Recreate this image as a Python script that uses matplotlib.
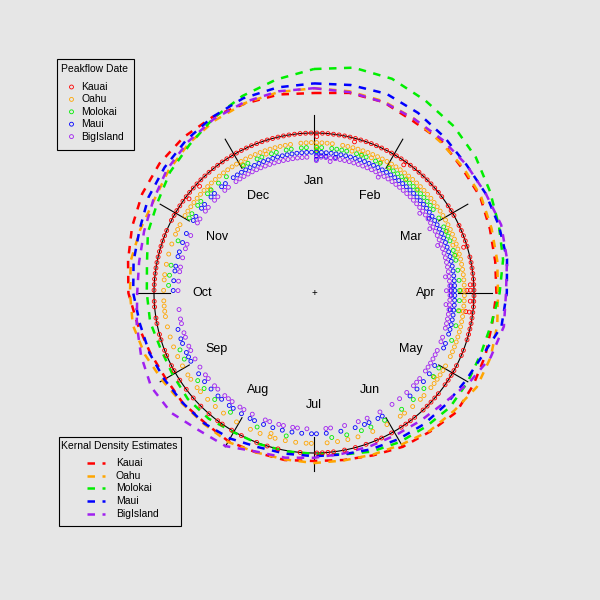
import matplotlib
matplotlib.use("Agg")
import matplotlib.pyplot as plt
import numpy as np
from matplotlib.patches import Rectangle

plt.rcParams["font.family"] = ["Liberation Sans", "DejaVu Sans"]

islands = ["Kauai", "Oahu", "Molokai", "Maui", "BigIsland"]
colors = ["red", "orange", "#00ee00", "blue", "#a020f0"]
months = ["Jan", "Feb", "Mar", "Apr", "May", "Jun",
          "Jul", "Aug", "Sep", "Oct", "Nov", "Dec"]

# peak flow dates (day of year)
kauai_doy = [1, 3, 5, 6, 8, 10, 12, 14, 16, 17, 19, 21, 23, 25, 27, 29, 31,
             32, 34, 36, 37, 39, 41, 43, 45, 47, 49, 51, 53, 55, 58,
             61, 63, 66, 68, 70, 72, 74, 76, 79, 82, 84, 86, 88, 89, 90,
             91, 92, 92, 93, 95, 96, 97, 99, 100, 100, 102, 104, 106, 108, 110, 113, 116, 119,
             122, 124, 126, 128, 131, 133, 135, 137, 140, 143, 146, 148, 150,
             154, 158, 161, 165, 168, 172, 176, 179,
             181, 183, 188, 196, 201, 205, 210,
             214, 218, 222, 226, 230, 234, 238, 242,
             245, 248, 251, 254, 257, 260, 263, 266, 269, 272,
             275, 277, 280, 281, 283, 285, 287, 290, 291, 293, 296, 299, 302,
             305, 307, 309, 311, 312, 313, 315, 317, 318, 319, 321, 323, 325, 327, 329, 331, 333,
             335, 337, 339, 341, 343, 345, 347, 349, 351, 353, 355, 357, 359, 361, 363, 365]
oahu_doy = [1, 2, 3, 5, 6, 8, 13, 14, 16, 17, 19, 20, 21, 22, 24, 25, 26, 28, 29, 30,
            32, 33, 35, 36, 38, 40, 41, 43, 44, 46, 47, 49, 51, 53, 55, 57, 58,
            60, 62, 64, 66, 67, 69, 70, 72, 73, 75, 77, 78, 80, 82, 84, 86, 88, 90,
            91, 92, 94, 95, 97, 99, 100, 102, 103, 105, 107, 109, 111, 113, 116, 118,
            121, 124, 126, 127, 128, 130, 132, 135, 138, 141, 145, 149,
            155, 160, 166, 170, 175, 179,
            184, 186, 190, 195, 199, 200, 201, 204, 209,
            215, 220, 226, 230, 233, 236, 240, 241,
            246, 250, 254, 258, 262, 266, 268, 270, 272,
            276, 279, 282, 286, 290, 294, 298, 301, 303,
            306, 308, 310, 312, 314, 316, 318, 320, 321, 323, 325, 327, 328, 330, 332, 334,
            336, 337, 339, 341, 342, 344, 346, 347, 349, 351, 353, 355, 357, 360, 362, 364]
molokai_doy = [1, 3, 5, 8, 10, 13, 15, 18, 20, 23, 26, 29,
               32, 34, 36, 38, 40, 42, 44, 46, 48, 50, 52, 54, 57,
               61, 64, 66, 68, 71, 74, 77, 80, 84, 88,
               92, 95, 100, 106, 112,
               124, 128, 133, 140, 146,
               155, 160, 164, 170, 176,
               195, 207,
               218, 228, 234, 238,
               247, 252,
               278, 282, 286, 296,
               306, 309, 312, 315, 318, 321, 325, 329,
               336, 339, 342, 345, 348, 351, 354, 357, 360, 363]
maui_doy = [1, 2, 3, 4, 5, 6, 7, 8, 10, 11, 12, 14, 16, 18, 20, 22, 24, 26, 28, 30,
            32, 34, 36, 38, 40, 42, 44, 46, 48, 50, 52, 54, 56, 58, 59,
            61, 63, 65, 67, 69, 71, 73, 75, 77, 79, 81, 83, 85, 87, 89, 90,
            91, 92, 93, 94, 96, 97, 99, 100, 102, 104, 106, 108, 110, 113, 116,
            123, 127, 132, 136, 140,
            154, 156, 160, 163, 167, 173, 178,
            182, 185, 188, 192, 196, 201, 205, 208, 210,
            215, 218, 222, 225, 228, 232, 236, 240,
            245, 248, 250, 253, 256, 259,
            276, 280, 283, 286, 289, 292, 296, 300,
            306, 309, 312, 315, 318, 321, 324, 327, 330, 333,
            335, 337, 339, 341, 343, 345, 347, 349, 351, 353, 355, 357, 359, 361, 363, 365]
bigisland_doy = [1, 2, 4, 6, 8, 9, 11, 13, 15, 17, 19, 21, 23, 25, 27, 28, 30,
                 31, 33, 35, 37, 38, 40, 42, 44, 46, 48, 50, 52, 54, 55, 57, 59,
                 60, 62, 63, 65, 66, 68, 70, 71, 73, 75, 77, 79, 81, 83, 85, 86, 88, 89,
                 91, 92, 94, 95, 97, 98, 100, 102, 104, 106, 108, 111, 114, 117, 120,
                 122, 124, 126, 128, 131, 133, 136, 140, 144, 148,
                 155, 160, 165, 170, 176, 179,
                 186, 190, 193, 196, 199, 202, 205, 210,
                 214, 217, 220, 223, 226, 229, 232, 235, 238, 241,
                 245, 249, 252, 255, 258, 261, 264, 268,
                 276, 280, 283, 286, 290, 293, 297, 301,
                 306, 309, 312, 315, 318, 321, 324, 327, 330, 333,
                 335, 337, 339, 341, 343, 345, 347, 349, 351, 353, 355, 357, 359, 361, 363]
point_radius = [1.0, 0.94, 0.91, 0.88, 0.85]

# kernel density curves: radius (circle = 1) every 10 deg clockwise from Jan
kde_step = 10
kauai_kde = [1.25, 1.27, 1.27, 1.24, 1.24, 1.21, 1.20, 1.17, 1.15, 1.14, 1.13, 1.14,
             1.15, 1.16, 1.13, 1.11, 1.08, 1.06, 1.05, 1.06, 1.06, 1.07, 1.06, 1.07,
             1.07, 1.09, 1.12, 1.16, 1.18, 1.21, 1.24, 1.26, 1.27, 1.27, 1.26, 1.26]
oahu_kde = [1.28, 1.28, 1.275, 1.256, 1.231, 1.219, 1.206, 1.181, 1.163, 1.15, 1.163, 1.175,
            1.175, 1.144, 1.125, 1.094, 1.075, 1.063, 1.063, 1.056, 1.06, 1.075, 1.069, 1.075,
            1.094, 1.125, 1.15, 1.15, 1.163, 1.156, 1.156, 1.188, 1.219, 1.244, 1.263, 1.275]
molokai_kde = [1.40, 1.43, 1.425, 1.39, 1.36, 1.32, 1.27, 1.23, 1.20, 1.16, 1.125, 1.11,
               1.11, 1.11, 1.09, 1.075, 1.055, 1.025, 1.005, 1.005, 1.005, 1.005, 1.025, 1.03,
               1.02, 1.02, 1.04, 1.045, 1.06, 1.105, 1.13, 1.175, 1.21, 1.26, 1.31, 1.355]
maui_kde = [1.31, 1.32, 1.325, 1.30, 1.27, 1.245, 1.24, 1.23, 1.225, 1.205, 1.19, 1.125,
            1.095, 1.08, 1.07, 1.055, 1.04, 1.025, 1.02, 1.02, 1.025, 1.05, 1.065, 1.07,
            1.08, 1.095, 1.105, 1.13, 1.145, 1.16, 1.195, 1.22, 1.245, 1.27, 1.295, 1.305]
bigisland_kde = [1.28, 1.275, 1.27, 1.255, 1.25, 1.245, 1.24, 1.245, 1.225, 1.20, 1.205, 1.175,
                 1.12, 1.065, 1.04, 1.025, 1.02, 1.02, 1.03, 1.045, 1.055, 1.105, 1.12, 1.165,
                 1.175, 1.15, 1.125, 1.105, 1.11, 1.13, 1.16, 1.20, 1.23, 1.255, 1.27, 1.28]

doys = [kauai_doy, oahu_doy, molokai_doy, maui_doy, bigisland_doy]
kdes = [kauai_kde, oahu_kde, molokai_kde, maui_kde, bigisland_kde]

BG = "#e6e6e6"
CX, CY, RAD = 314, 293, 160  # circle centre and radius in pixels


def px(x, y):
    return (x - CX) / RAD, (CY - y) / RAD


def stacked_xy(doy, base, sep=0.022, nbins=180):
    ang = (np.asarray(doy) - 1) / 365.0 * 2 * np.pi
    b = np.floor(ang / (2 * np.pi) * nbins).astype(int)
    mids = (b + 0.5) * 2 * np.pi / nbins
    level = np.zeros(len(b))
    seen = {}
    for i, k in enumerate(b):
        level[i] = seen.get(k, 0)
        seen[k] = level[i] + 1
    r = base - level * sep
    return r * np.sin(mids), r * np.cos(mids)


fig = plt.figure(figsize=(6, 6), dpi=100, facecolor=BG)
ax = fig.add_axes([0, 0, 1, 1], facecolor=BG)
ax.set_xlim(px(0, 0)[0], px(600, 0)[0])
ax.set_ylim(px(0, 600)[1], px(0, 0)[1])
ax.axis("off")

t = np.linspace(0, 2 * np.pi, 400)
ax.plot(np.sin(t), np.cos(t), color="black", lw=0.8)

for m, name in enumerate(months):
    a = np.deg2rad(m * 30)
    ax.plot([0.9 * np.sin(a), 1.11 * np.sin(a)], [0.9 * np.cos(a), 1.11 * np.cos(a)],
            color="black", lw=0.8)
    ax.text(0.7 * np.sin(a), 0.7 * np.cos(a), name, ha="center", va="center", fontsize=9)
ax.text(0, 0, "+", ha="center", va="center", fontsize=7)

for doy, base, col in zip(doys, point_radius, colors):
    x, y = stacked_xy(doy, base)
    ax.scatter(x, y, s=8, facecolors="none", edgecolors=col, linewidths=0.6, zorder=3)

for kde, col in zip(kdes, colors):
    r = np.array(kde + kde[:1])
    a = np.deg2rad(np.arange(len(r)) * kde_step)
    ax.plot(r * np.sin(a), r * np.cos(a), color=col, lw=1.8, dashes=(3.0, 3.0), zorder=2)

# legend: peak flow dates
x0, y0 = px(57, 150)
x1, y1 = px(134, 59)
ax.add_patch(Rectangle((x0, y0), x1 - x0, y1 - y0, facecolor=BG, edgecolor="black", lw=0.8))
ax.text(*px(61, 69), "Peakflow Date", ha="left", va="center", fontsize=7.5)
for i, (name, col) in enumerate(zip(islands, colors)):
    yy = 87 + 12.4 * i
    ax.scatter(*px(71.5, yy), s=8, facecolors="none", edgecolors=col, linewidths=0.6)
    ax.text(*px(81, yy), name, ha="left", va="center", fontsize=7.5)

# legend: kernel density estimates
x0, y0 = px(59, 526)
x1, y1 = px(181, 437)
ax.add_patch(Rectangle((x0, y0), x1 - x0, y1 - y0, facecolor=BG, edgecolor="black", lw=0.8))
ax.text(*px(61, 446), "Kernal Density Estimates", ha="left", va="center", fontsize=7.5)
for i, (name, col) in enumerate(zip(islands, colors)):
    yy = 463 + 12.7 * i
    (xa, ya), (xb, yb) = px(87, yy), px(105, yy)
    ax.plot([xa, xb], [ya, yb], color=col, lw=1.8, dashes=(3.0, 3.0))
    ax.text(*px(116, yy), name, ha="left", va="center", fontsize=7.5)

fig.savefig("out.png", dpi=100, facecolor=BG)
